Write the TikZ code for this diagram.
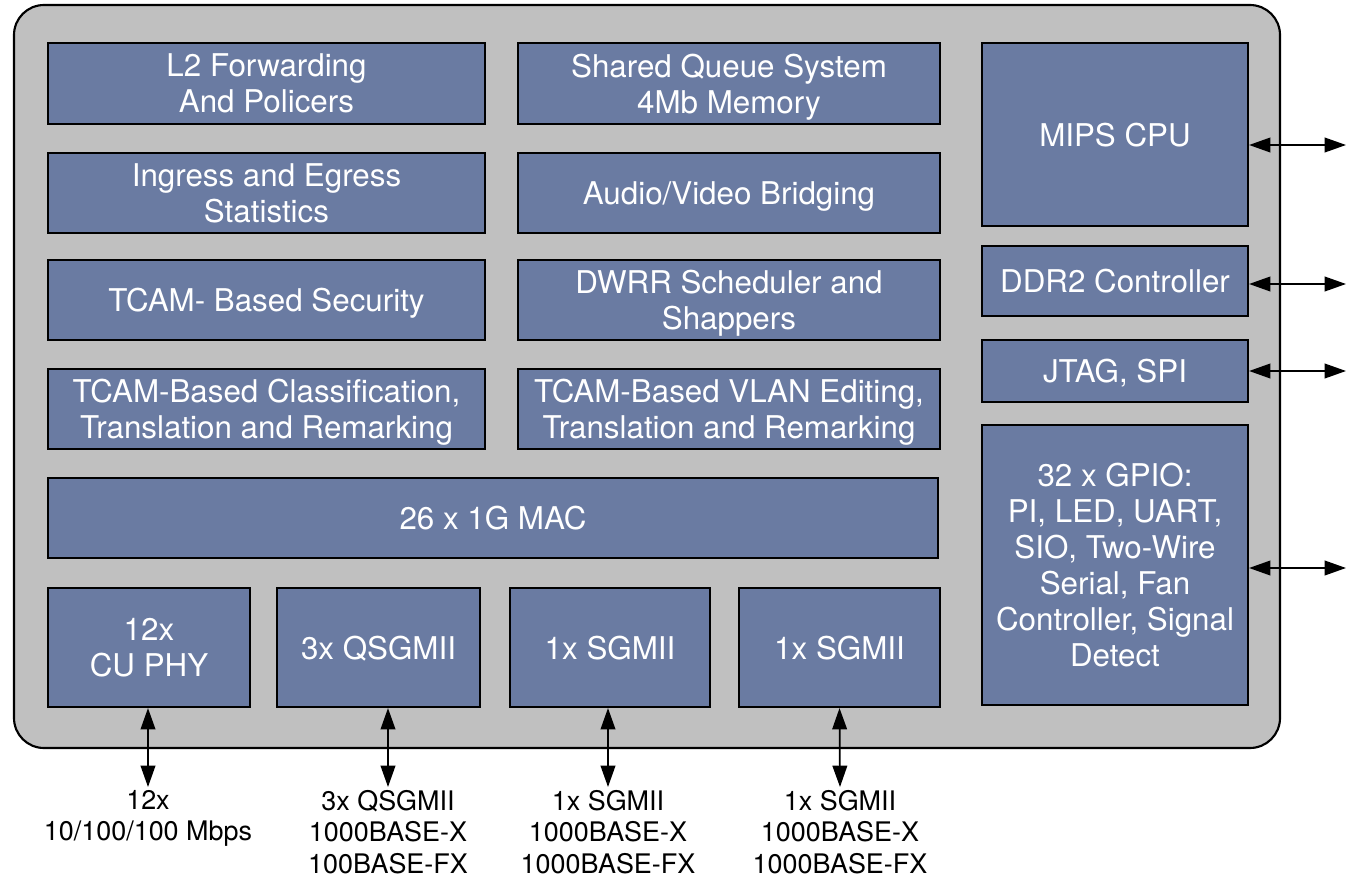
\documentclass[tikz,border=0pt]{standalone}
\usepackage{fontspec}
\setmainfont{TeX Gyre Heros}
\usetikzlibrary{arrows.meta}
\definecolor{boxblue}{HTML}{6A7BA2}
\definecolor{chipgray}{HTML}{C0C0C0}
\tikzset{
  blk/.style={draw=black, line width=1.6pt, fill=boxblue, text=white, align=center,
    inner sep=0pt, text depth=0pt, font=\fontsize{23.5pt}{27pt}\selectfont},
  lab/.style={text=black, align=center, anchor=north, inner sep=2pt,
    font=\fontsize{20.2pt}{23.8pt}\selectfont},
  arr/.style={line width=1.3pt, {Triangle[length=16pt,width=11pt]}-{Triangle[length=16pt,width=11pt]}}
}
\newcommand{\blkat}[6]{%
  \node[blk, minimum width={(#4-#2)*0.75pt}, minimum height={(#5-#3)*0.75pt}]
    (#1) at ({(#2+#4)/2},{(#3+#5)/2}) {#6};}
\begin{document}
\begin{tikzpicture}[x=0.75pt,y=-0.75pt]
\useasboundingbox (0,0) rectangle (1347,878);
\draw[line width=1.6pt, fill=chipgray, rounded corners=22.5pt] (14,5) rectangle (1280,748);
% left column
\blkat{l2}{48}{43}{485}{124}{L2 Forwarding\\And Policers}
\blkat{stat}{48}{153}{485}{233}{Ingress and Egress\\Statistics}
\blkat{sec}{48}{260}{485}{340}{TCAM- Based Security}
\blkat{cls}{48}{369}{485}{449}{TCAM-Based Classification,\\Translation and Remarking}
% middle column
\blkat{sq}{518}{43}{940}{124}{Shared Queue System\\4Mb Memory}
\blkat{avb}{518}{153}{940}{233}{Audio/Video Bridging}
\blkat{dwrr}{518}{260}{940}{340}{DWRR Scheduler and\\Shappers}
\blkat{vlan}{518}{369}{940}{449}{TCAM-Based VLAN Editing,\\Translation and Remarking}
% MAC
\blkat{mac}{48}{478}{938}{558}{26 x 1G MAC}
% bottom row
\blkat{phy}{48}{588}{250}{707}{12x\\CU PHY}
\blkat{qsg}{277}{588}{480}{707}{3x QSGMII}
\blkat{sgA}{510}{588}{710}{707}{1x SGMII}
\blkat{sgB}{739}{588}{940}{707}{1x SGMII}
% right column
\blkat{cpu}{982}{43}{1248}{226}{MIPS CPU}
\blkat{ddr}{982}{246}{1248}{316}{DDR2 Controller}
\blkat{jtag}{982}{340}{1248}{402}{JTAG, SPI}
\blkat{gpio}{982}{425}{1248}{705}{32 x GPIO:\\PI, LED, UART,\\SIO, Two-Wire\\Serial, Fan\\Controller, Signal\\Detect}
% right connectors
\coordinate (o1) at (1346,145);
\coordinate (o2) at (1346,284);
\coordinate (o3) at (1346,371);
\coordinate (o4) at (1346,568);
\draw[arr] (cpu.east |- o1) -- (o1);
\draw[arr] (ddr.east |- o2) -- (o2);
\draw[arr] (jtag.east |- o3) -- (o3);
\draw[arr] (gpio.east |- o4) -- (o4);
% bottom labels
\node[lab] (b1) at (148,787) {12x\\10/100/100 Mbps};
\node[lab] (b2) at (388,787) {3x QSGMII\\1000BASE-X\\100BASE-FX};
\node[lab] (b3) at (608,787) {1x SGMII\\1000BASE-X\\1000BASE-FX};
\node[lab] (b4) at (840,787) {1x SGMII\\1000BASE-X\\1000BASE-FX};
\draw[arr] (phy.south -| b1.north) -- (b1.north);
\draw[arr] (qsg.south -| b2.north) -- (b2.north);
\draw[arr] (sgA.south -| b3.north) -- (b3.north);
\draw[arr] (sgB.south) -- (b4.north);
\end{tikzpicture}
\end{document}
